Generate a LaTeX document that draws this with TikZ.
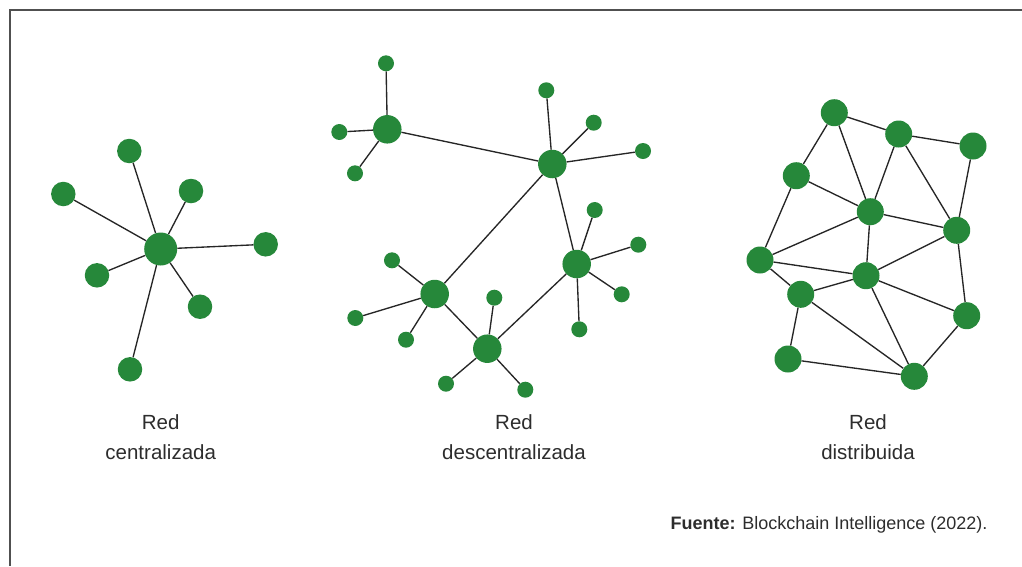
\documentclass[tikz,border=0pt]{standalone}
\usepackage{fontspec}
\setmainfont{Liberation Sans}
\definecolor{nodegreen}{RGB}{38,136,58}
\definecolor{textgray}{RGB}{45,45,45}
\definecolor{framegray}{RGB}{80,80,80}
\begin{document}
\begin{tikzpicture}[x=1pt,y=-1pt,
  dot/.style={circle,fill=nodegreen,draw=none,inner sep=0pt,minimum size=#1},
  link/.style={draw=black!85,line width=1.35pt},
  caption/.style={font=\fontsize{20.5}{30}\selectfont,text=textgray,align=center,anchor=north}]
\useasboundingbox (0,0) rectangle (1022,566);
% frame
\draw[framegray,line width=1.6pt] (1022,10) -| (10,566);

% ---- centralized network ----
\node[dot=33pt] (c0) at (160.7,249) {};
\node[dot=24.5pt] (c1) at (129.3,151) {};
\node[dot=24.5pt] (c2) at (63.3,194) {};
\node[dot=24.5pt] (c3) at (191,191) {};
\node[dot=24.5pt] (c4) at (265.7,244.3) {};
\node[dot=24.5pt] (c5) at (97,275.3) {};
\node[dot=24.5pt] (c6) at (200,306.7) {};
\node[dot=24.5pt] (c7) at (130,369.3) {};
\foreach \i in {1,...,7} \draw[link] (c0) -- (c\i);

% ---- decentralized network ----
\node[dot=28.5pt] (ha) at (387.3,129.3) {};
\node[dot=16pt] (a1) at (386,63.3) {};
\node[dot=16pt] (a2) at (339.3,132) {};
\node[dot=16pt] (a3) at (355,173.3) {};
\node[dot=28.5pt] (hb) at (552.3,164) {};
\node[dot=16pt] (b1) at (546.3,90.3) {};
\node[dot=16pt] (b2) at (593.7,122.7) {};
\node[dot=16pt] (b3) at (643,151) {};
\node[dot=28.5pt] (hc) at (576.7,264) {};
\node[dot=16pt] (c1x) at (594.7,210) {};
\node[dot=16pt] (c2x) at (638.3,244.7) {};
\node[dot=16pt] (c3x) at (621.7,294.3) {};
\node[dot=16pt] (c4x) at (579.3,329.3) {};
\node[dot=28.5pt] (hd) at (434.7,294) {};
\node[dot=16pt] (d1) at (392,260.3) {};
\node[dot=16pt] (d2) at (355.3,318) {};
\node[dot=16pt] (d3) at (406,339.7) {};
\node[dot=28.5pt] (he) at (487.3,348.7) {};
\node[dot=16pt] (e1) at (494.3,297.7) {};
\node[dot=16pt] (e2) at (446,383.7) {};
\node[dot=16pt] (e3) at (525.3,389.7) {};
\foreach \l in {a1,a2,a3} \draw[link] (ha) -- (\l);
\foreach \l in {b1,b2,b3} \draw[link] (hb) -- (\l);
\foreach \l in {c1x,c2x,c3x,c4x} \draw[link] (hc) -- (\l);
\foreach \l in {d1,d2,d3} \draw[link] (hd) -- (\l);
\foreach \l in {e1,e2,e3} \draw[link] (he) -- (\l);
\draw[link] (ha) -- (hb);
\draw[link] (hb) -- (hd);
\draw[link] (hb) -- (hc);
\draw[link] (hd) -- (he);
\draw[link] (he) -- (hc);

% ---- distributed network ----
\foreach \n/\x/\y in {1/834.3/112.7, 2/898.7/134, 3/973/146, 4/796.3/175.7,
  5/870.3/211.7, 6/956.7/230.3, 7/760/260, 8/866/275.7, 9/800.7/294.3,
  10/966.7/315.7, 11/788/359, 12/914.3/376.3}
  \node[dot=27pt] (n\n) at (\x,\y) {};
\foreach \a/\b in {1/2,1/4,1/5,2/3,2/5,2/6,3/6,4/5,4/7,5/7,5/6,5/8,6/8,6/10,
  7/8,7/9,9/8,9/11,9/12,8/12,8/10,10/12,11/12}
  \draw[link] (n\a) -- (n\b);

% ---- captions ----
\node[caption] (t1) at (160.7,411) {Red\\centralizada};
\node[caption] (t2) at (514,411) {Red\\descentralizada};
\node[caption] (t3) at (868,411) {Red\\distribuida};
\node[anchor=base east,font=\fontsize{18}{22}\selectfont,text=textgray] (src)
  at (991,529.5) {\textbf{Fuente:} Blockchain Intelligence (2022).};
\end{tikzpicture}
\end{document}
